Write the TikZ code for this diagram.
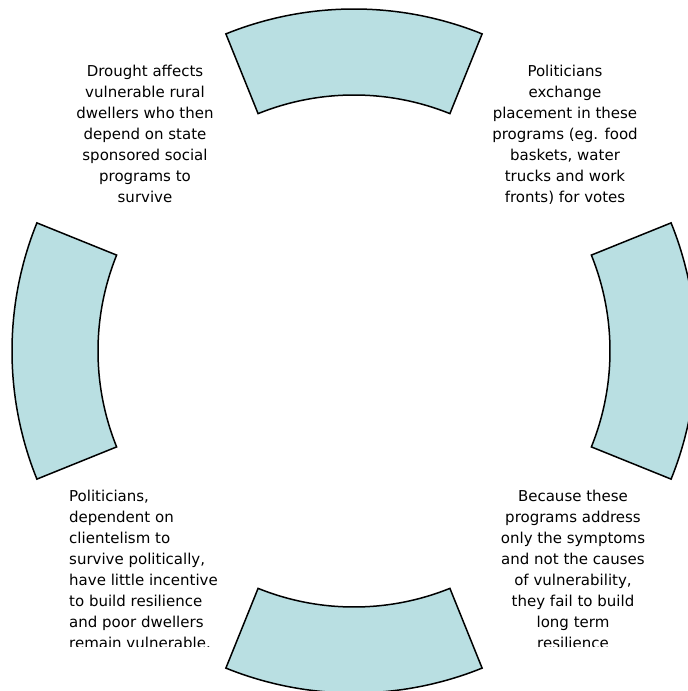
\documentclass[tikz,border=0pt]{standalone}
\usepackage{fontspec}
\setmainfont{DejaVu Sans}
\usepackage{xcolor}
\definecolor{paleteal}{RGB}{185,223,226}

\begin{document}
\begin{tikzpicture}[x=1pt, y=1pt,
    band/.style={fill=paleteal, draw=black, line width=1.5pt},
    note/.style={font=\fontsize{15}{21}\selectfont, inner sep=0pt, align=center}]
  \useasboundingbox (-354,-340) rectangle (334,351);
  \clip (-354,-340) rectangle (334,351);
  % four segments of the ring
  \foreach \a in {90,0,270,180} {
    \draw[band] ({\a+22}:342) arc[start angle=\a+22, end angle=\a-22, radius=342]
      -- ({\a-22}:256) arc[start angle=\a-22, end angle=\a+22, radius=256] -- cycle;
  }
  % texts between the segments
  \node[note, anchor=north] (drought) at (-209,286)
    {Drought affects\\vulnerable rural\\dwellers who then\\depend on state\\sponsored social\\programs to\\survive};
  \node[note, anchor=north] (votes) at (211,286)
    {Politicians\\exchange\\placement in these\\programs (eg. food\\baskets, water\\trucks and work\\fronts) for votes};
  \begin{scope}
    \clip (-354,-295.2) rectangle (334,351);
    \node[note, align=left, anchor=north west] (clients) at (-285,-139)
      {Politicians,\\dependent on\\clientelism to\\survive politically,\\have little incentive\\to build resilience\\and poor dwellers\\remain vulnerable.};
    \node[note, anchor=north] (symptoms) at (219,-139)
      {Because these\\programs address\\only the symptoms\\and not the causes\\of vulnerability,\\they fail to build\\long term\\resilience};
  \end{scope}
\end{tikzpicture}
\end{document}
